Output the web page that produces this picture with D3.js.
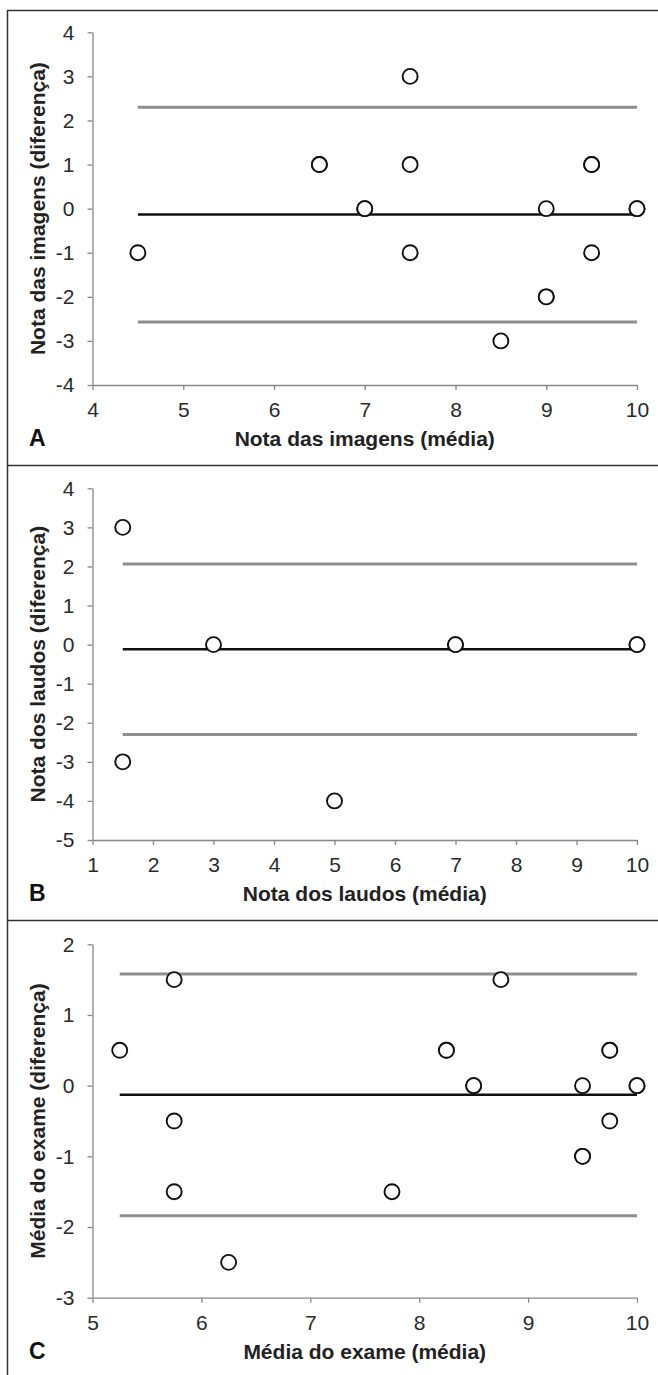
<!DOCTYPE html>
<html>
<head>
<meta charset="utf-8">
<script src="https://cdn.jsdelivr.net/npm/d3@7"></script>
<style>
  body { margin: 0; background: #fff; }
  svg { display: block; }
</style>
</head>
<body>
<svg id="chart" width="658" height="1375"></svg>
<script>
// Panel A - imagens
var xA = [4.5, 6.5, 6.5, 7, 7, 7.5, 7.5, 7.5, 8.5, 9, 9, 9, 9.5, 9.5, 9.5, 10, 10];
var dA = [-1, 1, 1, 0, 0, 3, 1, -1, -3, 0, -2, -2, 1, 1, -1, 0, 0];
var limA = [2.30, -0.13, -2.57];
var xTicksA = [4, 5, 6, 7, 8, 9, 10];
var yTicksA = [4, 3, 2, 1, 0, -1, -2, -3, -4];

// Panel B - laudos
var xB = [1.5, 1.5, 3, 5, 7, 7, 10, 10];
var dB = [3, -3, 0, -4, 0, 0, 0, 0];
var limB = [2.06, -0.12, -2.30];
var xTicksB = [1, 2, 3, 4, 5, 6, 7, 8, 9, 10];
var yTicksB = [4, 3, 2, 1, 0, -1, -2, -3, -4, -5];

// Panel C - exame
var xC = [5.25, 5.75, 5.75, 5.75, 6.25, 7.75, 8.25, 8.25, 8.5, 8.5, 8.75, 9.5, 9.5, 9.5, 9.75, 9.75, 9.75, 10, 10];
var dC = [0.5, 1.5, -0.5, -1.5, -2.5, -1.5, 0.5, 0.5, 0, 0, 1.5, 0, -1, -1, 0.5, 0.5, -0.5, 0, 0];
var limC = [1.58, -0.13, -1.84];
var xTicksC = [5, 6, 7, 8, 9, 10];
var yTicksC = [2, 1, 0, -1, -2, -3];

var svg = d3.select("#chart");
var font = "'Liberation Sans', Arial, sans-serif";
var narrow = "'Liberation Sans Narrow', 'Arial Narrow', 'Liberation Sans', sans-serif";

// frame
var frame = svg.append("g").attr("stroke", "#333").attr("stroke-width", 1.5);
frame.append("line").attr("x1", 7).attr("x2", 658).attr("y1", 10.5).attr("y2", 10.5);
frame.append("line").attr("x1", 7.5).attr("x2", 7.5).attr("y1", 10).attr("y2", 1375);
frame.append("line").attr("x1", 7).attr("x2", 658).attr("y1", 465.5).attr("y2", 465.5);
frame.append("line").attr("x1", 7).attr("x2", 658).attr("y1", 920.5).attr("y2", 920.5);

var panels = [
  { x: xA, d: dA, lim: limA, xt: xTicksA, yt: yTicksA, top: 32.3, bottom: 385, letter: "A",
    xlab: "Nota das imagens (média)", ylab: "Nota das imagens (diferença)" },
  { x: xB, d: dB, lim: limB, xt: xTicksB, yt: yTicksB, top: 488.3, bottom: 840, letter: "B",
    xlab: "Nota dos laudos (média)", ylab: "Nota dos laudos (diferença)" },
  { x: xC, d: dC, lim: limC, xt: xTicksC, yt: yTicksC, top: 944.3, bottom: 1297.7, letter: "C",
    xlab: "Média do exame (média)", ylab: "Média do exame (diferença)" }
];

var left = 92.5, right = 637;
var fmt = function (d) { return String(d); };

panels.forEach(function (p) {
  var xScale = d3.scaleLinear().domain([p.xt[0], p.xt[p.xt.length - 1]]).range([left, right]);
  var yScale = d3.scaleLinear().domain([p.yt[p.yt.length - 1], p.yt[0]]).range([p.bottom, p.top]);

  var g = svg.append("g");

  // axes
  var ax = g.append("g")
    .attr("transform", "translate(0," + p.bottom + ")")
    .call(d3.axisBottom(xScale).tickValues(p.xt).tickFormat(fmt).tickSize(5).tickSizeOuter(0).tickPadding(8));
  var ay = g.append("g")
    .attr("transform", "translate(" + left + ",0)")
    .call(d3.axisLeft(yScale).tickValues(p.yt).tickFormat(fmt).tickSize(5).tickSizeOuter(0).tickPadding(13));
  [ax, ay].forEach(function (a) {
    a.selectAll("path, line").attr("stroke", "#888").attr("stroke-width", 1.3);
    a.selectAll("text").style("font-family", narrow).style("font-size", "21px").attr("fill", "#2a2a2a");
  });
  ax.selectAll("text").attr("dy", "0.9em");

  // limit lines
  var x0 = d3.min(p.x), x1 = d3.max(p.x);
  g.selectAll(".lim")
    .data(p.lim)
    .enter()
    .append("line")
    .attr("x1", xScale(x0)).attr("x2", xScale(x1))
    .attr("y1", function (d) { return yScale(d); })
    .attr("y2", function (d) { return yScale(d); })
    .attr("stroke", function (d, i) { return i === 1 ? "#111" : "#8e8e8e"; })
    .attr("stroke-width", function (d, i) { return i === 1 ? 2.5 : 3; });

  // points
  g.selectAll(".pt")
    .data(p.x)
    .enter()
    .append("circle")
    .attr("cx", function (d) { return xScale(d); })
    .attr("cy", function (d, i) { return yScale(p.d[i]); })
    .attr("r", 7.5)
    .attr("fill", "#fff")
    .attr("stroke", "#111")
    .attr("stroke-width", 1.9);

  // labels
  var base = p.bottom + 61;
  svg.append("text")
    .attr("x", (left + right) / 2)
    .attr("y", base)
    .attr("text-anchor", "middle")
    .style("font-family", font)
    .style("font-weight", "bold")
    .style("font-size", "21px")
    .attr("fill", "#222")
    .text(p.xlab);

  svg.append("text")
    .attr("x", 29)
    .attr("y", base)
    .style("font-family", font)
    .style("font-weight", "bold")
    .style("font-size", "23px")
    .attr("fill", "#111")
    .text(p.letter);

  svg.append("text")
    .attr("text-anchor", "middle")
    .attr("transform", "translate(45," + ((p.top + p.bottom) / 2) + ")rotate(-90)")
    .style("font-family", font)
    .style("font-weight", "bold")
    .style("font-size", "21px")
    .attr("fill", "#222")
    .text(p.ylab);
});
</script>
</body>
</html>
